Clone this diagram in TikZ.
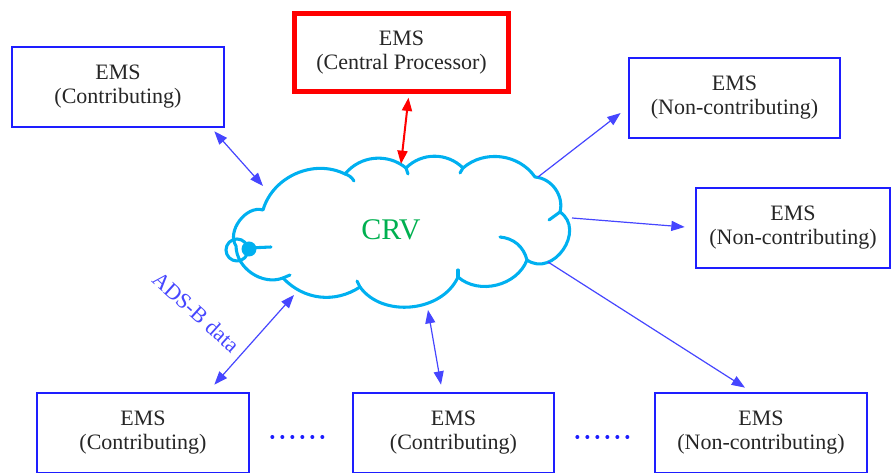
\documentclass[tikz,border=0pt]{standalone}
\usepackage{fontspec}
\setmainfont{Liberation Serif}
\usetikzlibrary{arrows.meta,calc}

\definecolor{emsblue}{RGB}{30,30,255}
\definecolor{linkblue}{RGB}{70,70,255}
\definecolor{cloudblue}{RGB}{0,176,240}
\definecolor{crvgreen}{RGB}{0,176,80}
\definecolor{emsred}{RGB}{255,0,0}

\tikzset{
  emsbox/.style={draw=emsblue, line width=2pt, fill=white, minimum width=159pt, minimum height=60pt,
    align=center, inner sep=0pt, font=\fontsize{16.5}{18}\selectfont, text=black!85},
  cpubox/.style={emsbox, draw=emsred, line width=3.2pt, minimum width=160.5pt, minimum height=58.5pt},
  tip/.tip={Triangle[length=10pt,width=7.5pt]},
  link/.style={draw=linkblue, line width=0.9pt, -tip},
  duplink/.style={link, tip-tip},
  redlink/.style={draw=emsred, line width=1.5pt, tip-tip},
  cloudline/.style={draw=cloudblue, line width=2.3pt, line cap=round, line join=round},
  dotrow/.style={draw=emsblue, line width=3pt, line cap=round, dash pattern=on 0pt off 7.5pt}
}

\begin{document}
\begin{tikzpicture}[x=0.75pt,y=0.75pt,yscale=-1,xscale=1]
	\useasboundingbox (0,0) rectangle (893,473);
	
	%Shape: Cloud
	\draw [cloudline] (263,210) to[bend right=50] (345,174) to[bend right=45] (406,168)
	  to[bend right=45] (463,168) to[bend right=48] (535,177) to[bend right=50] (560,212)
	  to[bend right=90,looseness=1.4] (527,260) to[bend right=55] (458,277)
	  to[bend right=60] (360,287) to[bend right=40] (283,278) to[bend right=55] (236,246)
	  to[bend right=70] (263,210) ;
	%Cloud inner strokes
	\draw [cloudline] (345,174) to[bend right=20] (354,181) ;
	\draw [cloudline] (406,168) -- (408,174) ;
	\draw [cloudline] (463,168) -- (460,173) ;
	\draw [cloudline] (560,212) -- (549,220) ;
	\draw [cloudline] (500,237) to[bend right=35] (527,260) ;
	\draw [cloudline] (458,277) -- (458,270) ;
	\draw [cloudline] (360,287) -- (357,281) ;
	\draw [cloudline] (283,278) -- (290,275) ;
	\draw [cloudline] (237,250) circle (11) ;
	\fill [cloudblue] (249,249) circle (7.5) ;
	\draw [cloudline] (249,248) -- (271,247) ;
	
	%Cloud points
	\coordinate (crv-nw) at (263,186) ;
	\coordinate (crv-n) at (401,164) ;
	\coordinate (crv-ne) at (538,177) ;
	\coordinate (crv-e) at (572,218) ;
	\coordinate (crv-se) at (548,262) ;
	\coordinate (crv-s) at (428,310) ;
	\coordinate (crv-sw) at (294,295) ;
	
	% Text Node
	\node [text=crvgreen, font=\fontsize{22.5}{24}\selectfont, inner sep=0pt] (crv) at (391,230) {CRV};
	
	%Shape: Rectangle
	\node [emsbox] (cont1) at (118,87) {EMS\\(Contributing)};
	\node [cpubox] (cpu) at (401.5,52.5) {EMS\\(Central Processor)};
	\node [emsbox, minimum width=158.25pt] (nonc1) at (734.5,98) {EMS\\(Non-contributing)};
	\node [emsbox, minimum width=145.5pt] (nonc2) at (793,228) {EMS\\(Non-contributing)};
	\node [emsbox] (cont2) at (143,433) {EMS\\(Contributing)};
	\node [emsbox, minimum width=150.75pt] (cont3) at (453.5,433) {EMS\\(Contributing)};
	\node [emsbox] (nonc3) at (761,433) {EMS\\(Non-contributing)};
	
	%Straight Lines
	\draw [duplink] (crv-nw) -- ($(cont1.south east)+(-11,3)$) ;
	\draw [redlink] (crv-n) -- ($(cpu.south)+(7,4)$) ;
	\draw [link] (crv-ne) -- ($(nonc1.west)+(-7,15)$) ;
	\draw [link] (crv-e) -- ($(nonc2.west)+(-10,-1)$) ;
	\draw [link] (crv-se) -- ($(nonc3.north)+(-16,-4)$) ;
	\draw [duplink] (crv-sw) -- ($(cont2.north east)+(-36,-7)$) ;
	\draw [duplink] (crv-s) -- ($(cont3.north)+(-12.5,-7)$) ;
	%Dotted Lines
	\draw [dotrow, shorten <=16.5pt, shorten >=14.5pt] ($(cont2.east)+(0,4)$) -- ($(cont3.west)+(0,4)$) ;
	\draw [dotrow, shorten <=16.5pt, shorten >=14.5pt] ($(cont3.east)+(0,4)$) -- ($(nonc3.west)+(0,4)$) ;
	
	% Text Node
	\node [text=linkblue, font=\fontsize{16.5}{18}\selectfont, rotate=-42, inner sep=0pt] (adsb) at (196,312) {ADS-B data};
	
\end{tikzpicture}
\end{document}
